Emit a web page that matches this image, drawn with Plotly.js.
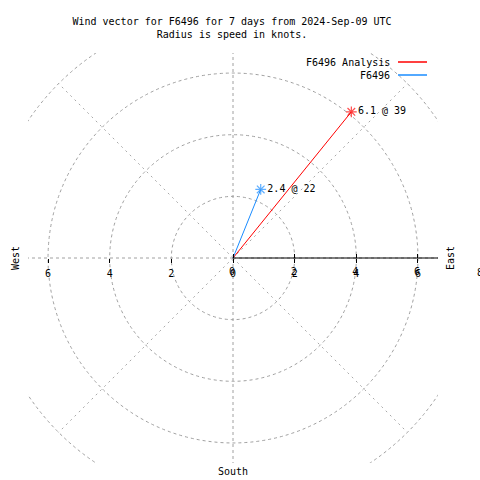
<!DOCTYPE html>
<html>
<head>
<meta charset="utf-8">
<script src="https://cdn.plot.ly/plotly-3.0.1.min.js"></script>
<style>html,body{margin:0;padding:0;background:#fff;}#chart{width:480px;height:480px;}</style>
</head>
<body>
<div id="chart"></div>
<script>
// ---- data ----
const seriesNames = ['F6496 Analysis', 'F6496'];
const speedsKnots = [6.1, 2.4];
const directionsDeg = [39, 22];
const seriesColors = ['#ff0000', '#1a8cff'];

const gridRadii = [2, 4, 6, 8];
const gridAngles = [0, 45, 90, 135, 180, 225, 270, 315];

const xTickVals = [-6, -4, -2, 0, 2, 4, 6];
const xTickText = ['6', '4', '2', '0', '2', '4', '6'];
const rTickVals = [0, 2, 4, 6, 8];
const rTickText = ['0', '2', '4', '6', '8'];

const compassLabels = ['West', 'East', 'South'];
const titleLines = ['Wind vector for F6496 for 7 days from 2024-Sep-09 UTC', 'Radius is speed in knots.'];

// ---- layout helpers ----
const RMAX = 6.65;
const W = 480, H = 480;
const M = {l: 28, r: 42, t: 53, b: 17};
const PW = W - M.l - M.r, PH = H - M.t - M.b;
const px2paperX = px => (px - M.l) / PW;
const px2paperY = py => (H - M.b - py) / PH;
const FONT = 'DejaVu Sans Mono';
const toRad = d => d * Math.PI / 180;

const traces = seriesNames.map((name, i) => {
  const r = speedsKnots[i], th = toRad(directionsDeg[i]);
  return {
    type: 'scatter',
    mode: 'lines+markers+text',
    name: name,
    x: [0, r * Math.sin(th)],
    y: [0, r * Math.cos(th)],
    xaxis: i === 0 ? 'x' : 'x2',
    line: {color: seriesColors[i], width: 1},
    marker: {symbol: ['circle', 'asterisk-open'], size: [0.1, 9], color: seriesColors[i],
             line: {color: seriesColors[i], width: 1.2}},
    text: ['', speedsKnots[i].toFixed(1) + ' @ ' + directionsDeg[i]],
    textposition: 'middle right',
    textfont: {family: FONT, size: 10, color: '#000'},
    cliponaxis: false,
    showlegend: false,
    hoverinfo: 'skip'
  };
});

const gridStyle = {color: '#a0a0a0', width: 1, dash: '3px,3px'};
const diagStyle = {color: '#a8a8a8', width: 1, dash: '2px,4px'};
const shapes = [];
gridRadii.forEach(r => shapes.push({type: 'circle', xref: 'x', yref: 'y', x0: -r, y0: -r, x1: r, y1: r,
  line: gridStyle, layer: 'below'}));
gridAngles.forEach(a => {
  const R = gridRadii[gridRadii.length - 1];
  shapes.push({type: 'line', xref: 'x', yref: 'y', x0: 0, y0: 0,
    x1: R * Math.sin(toRad(a)), y1: R * Math.cos(toRad(a)),
    line: (a % 90 === 0) ? gridStyle : diagStyle, layer: 'below'});
});
// radial axis line (east)
shapes.push({type: 'line', xref: 'x', yref: 'y', x0: 0, y0: 0, x1: gridRadii[gridRadii.length - 1], y1: 0,
  line: {color: '#000', width: 1}, layer: 'below'});
// legend sample lines
seriesNames.forEach((n, i) => {
  const py = 62 + 13 * i;
  shapes.push({type: 'line', xref: 'paper', yref: 'paper', x0: px2paperX(398), x1: px2paperX(427),
    y0: px2paperY(py), y1: px2paperY(py), line: {color: seriesColors[i], width: 1.5}});
});

const annotations = [];
seriesNames.forEach((n, i) => {
  annotations.push({xref: 'paper', yref: 'paper', x: px2paperX(392), y: px2paperY(62 + 13 * i),
    xanchor: 'right', yanchor: 'middle', text: n, showarrow: false,
    font: {family: FONT, size: 10, color: '#000'}});
});
// compass labels
annotations.push({xref: 'paper', yref: 'paper', x: px2paperX(15), y: px2paperY(258), text: compassLabels[0],
  textangle: -90, showarrow: false, xanchor: 'center', yanchor: 'middle', font: {family: FONT, size: 10, color: '#000'}});
annotations.push({xref: 'paper', yref: 'paper', x: px2paperX(450), y: px2paperY(258), text: compassLabels[1],
  textangle: -90, showarrow: false, xanchor: 'center', yanchor: 'middle', font: {family: FONT, size: 10, color: '#000'}});
annotations.push({xref: 'paper', yref: 'paper', x: px2paperX(233), y: px2paperY(471), text: compassLabels[2],
  showarrow: false, xanchor: 'center', yanchor: 'middle', font: {family: FONT, size: 10, color: '#000'}});
// radial tick labels beyond the visible range
rTickVals.forEach((v, i) => {
  if (v > RMAX) {
    annotations.push({xref: 'paper', yref: 'paper', x: (v + RMAX) / (2 * RMAX), y: px2paperY(272),
      text: rTickText[i], showarrow: false, xanchor: 'center', yanchor: 'middle',
      font: {family: FONT, size: 10, color: '#000'}});
  }
});

const axisCommon = {
  range: [-RMAX, RMAX], showgrid: false, zeroline: false, showline: false,
  anchor: 'free', position: 0.5, tickmode: 'array', ticklen: 4, tickcolor: '#000', tickwidth: 1,
  tickfont: {family: FONT, size: 10, color: '#000'}, fixedrange: true
};

const layout = {
  width: W, height: H,
  margin: M,
  paper_bgcolor: '#fff', plot_bgcolor: '#fff',
  showlegend: false,
  title: {text: titleLines.join('<br>'), x: px2paperX(232), xref: 'paper', xanchor: 'center',
          y: 1 - 24.5 / H, yref: 'container', yanchor: 'middle', pad: {t: 0, b: 0},
          font: {family: FONT, size: 10, color: '#000'}},
  xaxis: Object.assign({}, axisCommon, {tickvals: xTickVals, ticktext: xTickText, ticks: 'outside', ticklabelstandoff: 2}),
  xaxis2: Object.assign({}, axisCommon, {overlaying: 'x', side: 'bottom',
    tickvals: rTickVals.filter(v => v <= RMAX), ticktext: rTickText.filter((t, i) => rTickVals[i] <= RMAX),
    ticks: 'inside', ticklabelshift: -1, ticklabelstandoff: 6}),
  yaxis: {range: [-RMAX, RMAX], visible: false, showgrid: false, zeroline: false, fixedrange: true},
  shapes: shapes,
  annotations: annotations
};

Plotly.newPlot('chart', traces, layout, {staticPlot: true, displayModeBar: false});
</script>
</body>
</html>
